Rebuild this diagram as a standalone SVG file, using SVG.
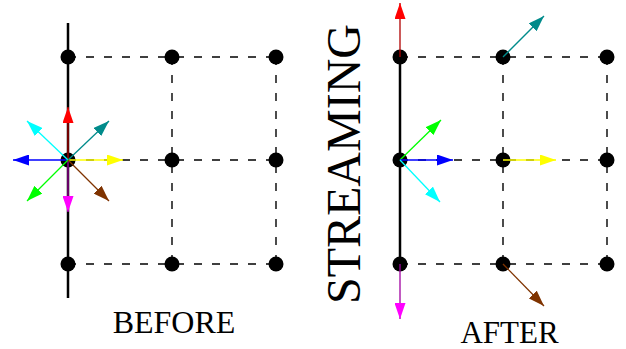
<svg xmlns="http://www.w3.org/2000/svg" width="626" height="349" viewBox="0 0 626 349">
<style>
.solid{stroke:#000;stroke-width:2.5;fill:none}
.dash{stroke:#000;stroke-width:1.4;stroke-dasharray:8 10;fill:none}
.node{fill:#000}
.arr{stroke-width:1.3;fill:none}
.lbl{font-family:"Liberation Serif","Times New Roman",serif;fill:#000;text-anchor:middle}
</style>
<defs>
<marker id="hr" markerUnits="userSpaceOnUse" markerWidth="16" markerHeight="11" viewBox="0 0 16 11" refX="16" refY="5.5" orient="auto"><path d="M0,0 L16,5.5 L0,11 z" fill="#ff0000"/></marker>
<marker id="hm" markerUnits="userSpaceOnUse" markerWidth="16" markerHeight="11" viewBox="0 0 16 11" refX="16" refY="5.5" orient="auto"><path d="M0,0 L16,5.5 L0,11 z" fill="#ff00ff"/></marker>
<marker id="hb" markerUnits="userSpaceOnUse" markerWidth="16" markerHeight="11" viewBox="0 0 16 11" refX="16" refY="5.5" orient="auto"><path d="M0,0 L16,5.5 L0,11 z" fill="#0000ff"/></marker>
<marker id="hy" markerUnits="userSpaceOnUse" markerWidth="16" markerHeight="11" viewBox="0 0 16 11" refX="16" refY="5.5" orient="auto"><path d="M0,0 L16,5.5 L0,11 z" fill="#ffff00"/></marker>
<marker id="hc" markerUnits="userSpaceOnUse" markerWidth="16" markerHeight="11" viewBox="0 0 16 11" refX="16" refY="5.5" orient="auto"><path d="M0,0 L16,5.5 L0,11 z" fill="#00ffff"/></marker>
<marker id="ht" markerUnits="userSpaceOnUse" markerWidth="16" markerHeight="11" viewBox="0 0 16 11" refX="16" refY="5.5" orient="auto"><path d="M0,0 L16,5.5 L0,11 z" fill="#008b8b"/></marker>
<marker id="hg" markerUnits="userSpaceOnUse" markerWidth="16" markerHeight="11" viewBox="0 0 16 11" refX="16" refY="5.5" orient="auto"><path d="M0,0 L16,5.5 L0,11 z" fill="#00ff00"/></marker>
<marker id="hn" markerUnits="userSpaceOnUse" markerWidth="16" markerHeight="11" viewBox="0 0 16 11" refX="16" refY="5.5" orient="auto"><path d="M0,0 L16,5.5 L0,11 z" fill="#7f3300"/></marker>
</defs>

<g id="grid-lines">
<line class="solid" x1="68" y1="23" x2="68" y2="298"/>
<line class="dash" x1="68" y1="57" x2="276" y2="57"/>
<line class="dash" x1="68" y1="160" x2="276" y2="160"/>
<line class="dash" x1="68" y1="264" x2="276" y2="264"/>
<line class="dash" x1="172" y1="57" x2="172" y2="264"/>
<line class="dash" x1="276" y1="57" x2="276" y2="264"/>
<line class="solid" x1="400" y1="57" x2="400" y2="264"/>
<line class="dash" x1="400" y1="57" x2="607" y2="57"/>
<line class="dash" x1="400" y1="160" x2="607" y2="160"/>
<line class="dash" x1="400" y1="264" x2="607" y2="264"/>
<line class="dash" x1="503" y1="57" x2="503" y2="264"/>
<line class="dash" x1="607" y1="57" x2="607" y2="264"/>
</g>

<g id="nodes-before">
<circle class="node" cx="68" cy="57" r="7.5"/>
<circle class="node" cx="172" cy="57" r="7.5"/>
<circle class="node" cx="276" cy="57" r="7.5"/>
<circle class="node" cx="68" cy="160" r="7.5"/>
<circle class="node" cx="172" cy="160" r="7.5"/>
<circle class="node" cx="276" cy="160" r="7.5"/>
<circle class="node" cx="68" cy="264" r="7.5"/>
<circle class="node" cx="172" cy="264" r="7.5"/>
<circle class="node" cx="276" cy="264" r="7.5"/>
</g>
<g id="nodes-after">
<circle class="node" cx="400" cy="57" r="7.5"/>
<circle class="node" cx="503" cy="57" r="7.5"/>
<circle class="node" cx="607" cy="57" r="7.5"/>
<circle class="node" cx="400" cy="160" r="7.5"/>
<circle class="node" cx="503" cy="160" r="7.5"/>
<circle class="node" cx="607" cy="160" r="7.5"/>
<circle class="node" cx="400" cy="264" r="7.5"/>
<circle class="node" cx="503" cy="264" r="7.5"/>
<circle class="node" cx="607" cy="264" r="7.5"/>
</g>

<g id="arrows-before">
<line class="arr" stroke="#b00000" stroke-width="2.2" x1="68" y1="160" x2="68" y2="107" marker-end="url(#hr)"/>
<line class="arr" stroke="#a000a0" stroke-width="2.2" x1="68" y1="160" x2="68" y2="212" marker-end="url(#hm)"/>
<line class="arr" stroke="#0000ff" x1="68" y1="160" x2="13" y2="160" marker-end="url(#hb)"/>
<line class="arr" stroke="#ffff00" x1="68" y1="160" x2="123" y2="160" marker-end="url(#hy)"/>
<line class="arr" stroke="#00ffff" x1="68" y1="160" x2="27" y2="121" marker-end="url(#hc)"/>
<line class="arr" stroke="#008b8b" x1="68" y1="160" x2="109" y2="121" marker-end="url(#ht)"/>
<line class="arr" stroke="#00ff00" x1="68" y1="160" x2="27" y2="201" marker-end="url(#hg)"/>
<line class="arr" stroke="#7f3300" x1="68" y1="160" x2="109" y2="201" marker-end="url(#hn)"/>
</g>

<g id="arrows-after">
<line class="arr" stroke="#b00000" stroke-width="2.2" x1="400" y1="57" x2="400" y2="3" marker-end="url(#hr)"/>
<line class="arr" stroke="#008b8b" x1="503" y1="57" x2="544" y2="16" marker-end="url(#ht)"/>
<line class="arr" stroke="#00ff00" x1="400" y1="160" x2="441" y2="120" marker-end="url(#hg)"/>
<line class="arr" stroke="#0000ff" x1="400" y1="160" x2="453" y2="160" marker-end="url(#hb)"/>
<line class="arr" stroke="#00ffff" x1="400" y1="160" x2="440" y2="202" marker-end="url(#hc)"/>
<line class="arr" stroke="#ffff00" x1="503" y1="160" x2="556" y2="160" marker-end="url(#hy)"/>
<line class="arr" stroke="#7f3300" x1="503" y1="264" x2="544" y2="306" marker-end="url(#hn)"/>
<line class="arr" stroke="#a000a0" stroke-width="2.2" x1="400" y1="264" x2="400" y2="319" marker-end="url(#hm)"/>
</g>

<g id="labels">
<text class="lbl" x="174" y="333" font-size="32">BEFORE</text>
<text class="lbl" x="509.5" y="343" font-size="31">AFTER</text>
<text class="lbl" font-size="48" transform="translate(360,164) rotate(-90)">STREAMING</text>
</g>
</svg>
